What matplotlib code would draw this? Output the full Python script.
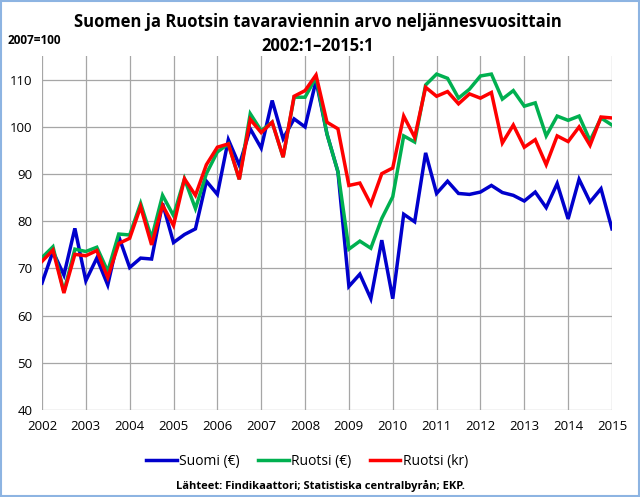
import matplotlib.pyplot as plt
import numpy as np
from matplotlib.patches import Rectangle

# quarterly index 2007=100, 2002:1 - 2015:1
suomi = [66.9, 73.6, 68.6, 78.5, 67.4, 72.2, 66.5, 76.8,
         70.2, 72.2, 72.0, 83.8, 75.5, 77.2, 78.4, 88.5,
         85.7, 97.3, 91.9, 99.6, 95.5, 105.6, 97.5, 101.7,
         100.0, 109.8, 98.5, 90.5, 66.2, 68.8, 63.6, 76.0,
         63.6, 81.5, 79.9, 94.5, 85.9, 88.5, 85.9, 85.7,
         86.2, 87.6, 86.1, 85.5, 84.3, 86.2, 82.9, 88.0,
         80.5, 88.9, 84.1, 86.9, 78.4]
ruotsi_eur = [72.3, 74.6, 65.1, 74.1, 73.6, 74.5, 69.4, 77.3,
              77.1, 83.8, 76.4, 85.5, 81.2, 89.0, 82.7, 90.1,
              94.7, 96.4, 88.9, 102.8, 99.2, 101.0, 93.6, 106.3,
              106.3, 110.5, 98.5, 90.5, 74.1, 75.8, 74.3, 80.6,
              85.2, 98.1, 96.8, 108.9, 111.2, 110.3, 106.1, 108.0,
              110.8, 111.2, 105.9, 107.7, 104.4, 105.1, 98.1, 102.3,
              101.4, 102.3, 97.1, 101.9, 100.4]
ruotsi_kr = [71.5, 73.9, 64.8, 73.0, 72.7, 73.8, 68.1, 75.3,
             76.4, 83.1, 75.0, 83.4, 79.1, 89.0, 85.5, 92.0,
             95.7, 96.4, 88.9, 101.6, 98.8, 101.0, 93.6, 106.5,
             107.7, 111.0, 101.0, 99.6, 87.6, 88.1, 83.6, 90.1,
             91.3, 102.3, 97.8, 108.4, 106.5, 107.5, 104.9, 107.0,
             106.1, 107.3, 96.6, 100.4, 95.7, 97.3, 92.0, 98.1,
             96.9, 100.0, 96.1, 102.1, 101.9]
years = list(range(2002, 2016))

x = 2002 + np.arange(len(suomi)) / 4.0

fig = plt.figure(figsize=(6.4, 4.97), dpi=100)
ax = fig.add_axes([0.0656, 0.175, 0.8906, 0.712])

ax.plot(x, suomi, color='#0000CC', lw=2.5, label='Suomi (€)', solid_joinstyle='miter')
ax.plot(x, ruotsi_eur, color='#00B050', lw=2.5, label='Ruotsi (€)', solid_joinstyle='miter')
ax.plot(x, ruotsi_kr, color='#FF0000', lw=2.5, label='Ruotsi (kr)', solid_joinstyle='miter')

ax.set_xlim(2002, 2015)
ax.set_ylim(40, 115)
ax.set_xticks(years)
ax.set_xticklabels([str(y) for y in years])
ax.set_yticks(range(40, 111, 10))
ax.grid(True, color='#A6A6A6', lw=0.9)
ax.set_axisbelow(True)
for s in ax.spines.values():
    s.set_visible(False)
ax.tick_params(length=0, labelsize=9.5, pad=7)
for lab in ax.get_xticklabels() + ax.get_yticklabels():
    lab.set_fontfamily('Open Sans')

fig.text(0.497, 0.955, 'Suomen ja Ruotsin tavaraviennin arvo neljännesvuosittain',
         ha='center', va='center', fontsize=12, fontweight='bold', family='Open Sans')
fig.text(0.497, 0.908, '2002:1–2015:1', ha='center', va='center',
         fontsize=12, fontweight='bold', family='Open Sans')
fig.text(0.012, 0.918, '2007=100', ha='left', va='center', fontsize=8.5,
         fontweight='bold', family='Open Sans')

leg = fig.legend(loc='center', bbox_to_anchor=(0.48, 0.071), ncol=3, frameon=False,
                 prop={'family': 'Open Sans', 'size': 10}, handlelength=2.2,
                 handletextpad=0.2, columnspacing=1.3)

fig.text(0.5, 0.022, 'Lähteet: Findikaattori; Statistiska centralbyrån; EKP.',
         ha='center', va='center', fontsize=8, fontweight='bold', family='Open Sans')

fig.patches.append(Rectangle((0.002, 0.002), 0.996, 0.996, transform=fig.transFigure,
                             fill=False, edgecolor='#8DB4E2', lw=1.5))

fig.savefig('out.png', dpi=100)
